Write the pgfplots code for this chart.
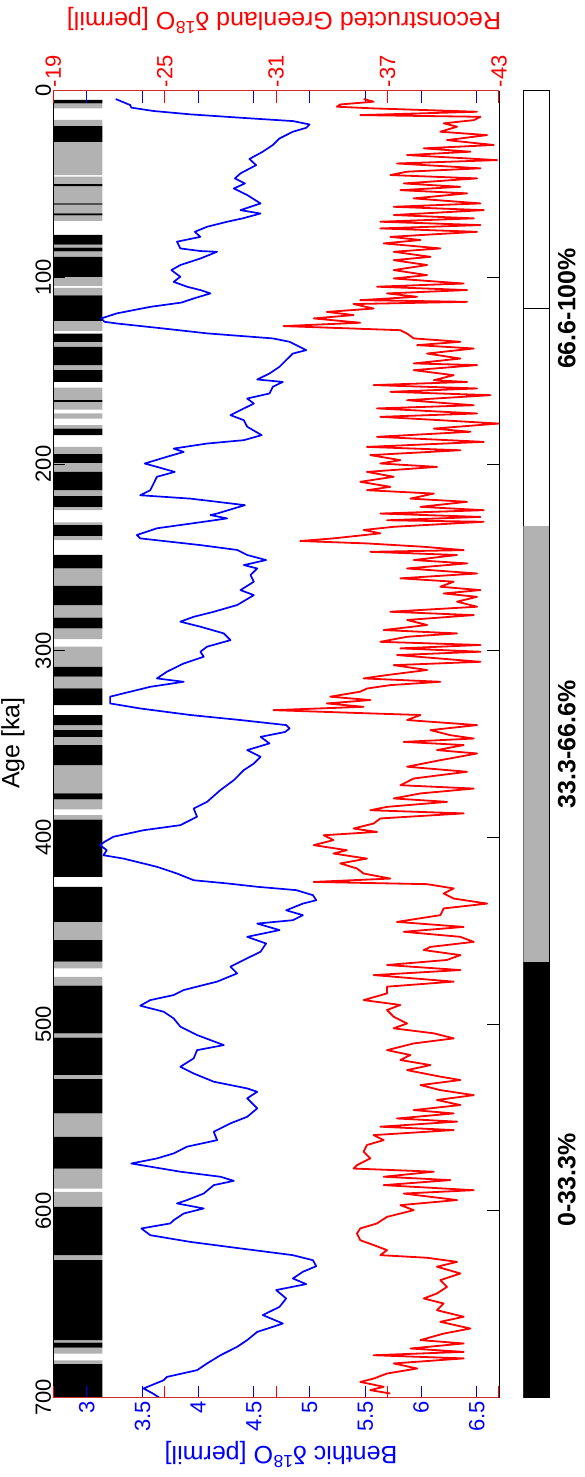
\documentclass[border=0pt]{standalone}
\usepackage{fontspec}
\setmainfont{Liberation Sans}
\usepackage{pgfplots}
\usepackage{pgfplotstable}
\pgfplotsset{compat=1.18}

\definecolor{bandgray}{gray}{0.70}
\definecolor{axisred}{RGB}{205,45,45}
\newcommand\ticklabelfont{\fontsize{22}{26}\selectfont}
\newcommand\titlefont{\fontsize{25}{30}\selectfont}

% Benthic d18O stack (age in ka, permil)
\pgfplotstableread{
age v
4.5 3.26
7.7 3.39
9.1 3.40
10.9 3.60
12.7 3.93
14.5 4.38
16.3 4.85
18.1 5.00
19.9 4.97
22.0 4.85
25.6 4.73
29.1 4.67
32.7 4.58
36.6 4.46
39.9 4.52
44.3 4.38
47.0 4.33
49.7 4.42
52.4 4.32
55.9 4.44
60.4 4.56
64.0 4.38
65.8 4.56
68.4 4.40
70.2 4.26
72.9 4.08
75.6 3.97
78.3 4.02
80.9 3.81
84.5 3.84
85.9 4.02
86.3 4.17
89.9 4.02
93.4 3.84
96.1 3.76
99.7 3.84
102.4 3.78
105.0 3.90
106.8 4.02
108.6 4.11
111.3 3.96
113.5 3.85
115.8 3.57
119.3 3.27
122.0 3.13
123.8 3.16
124.7 3.27
127.4 3.69
128.6 3.87
130.0 4.08
132.7 4.67
134.5 4.82
139.0 4.97
140.8 4.85
144.3 4.79
147.9 4.73
151.5 4.64
154.7 4.53
156.0 4.76
158.6 4.67
162.2 4.64
164.9 4.44
167.6 4.50
171.1 4.38
173.8 4.29
176.5 4.41
180.0 4.44
184.5 4.57
187.2 4.41
189.0 4.08
191.7 3.78
193.5 3.87
196.1 3.72
199.7 3.52
201.5 3.63
204.2 3.79
206.8 3.63
210.4 3.60
214.0 3.57
216.7 3.48
218.5 3.93
222.0 4.42
223.8 4.32
226.5 4.17
227.3 4.11
229.1 4.26
230.9 4.05
234.4 3.63
238.0 3.45
239.8 3.48
243.4 4.02
246.0 4.35
248.7 4.44
251.4 4.61
254.1 4.41
255.9 4.53
259.4 4.47
263.0 4.50
267.5 4.38
270.2 4.50
275.5 4.35
279.1 4.14
281.8 3.96
284.4 3.84
287.1 4.02
290.7 4.23
294.3 4.29
297.8 4.08
300.5 4.02
303.2 4.05
306.8 3.87
311.2 3.72
314.8 3.63
316.6 3.87
319.3 3.57
322.8 3.33
324.6 3.21
328.2 3.21
330.9 3.48
334.4 3.93
337.1 4.38
339.8 4.79
341.6 4.82
343.5 4.78
346.1 4.56
349.6 4.64
353.2 4.44
356.8 4.56
360.4 4.50
363.9 4.41
369.3 4.32
374.6 4.20
380.9 4.08
384.5 3.96
388.9 3.99
393.4 3.84
396.1 3.51
399.6 3.24
402.3 3.16
404.1 3.12
406.8 3.18
409.5 3.15
411.3 3.33
415.7 3.63
419.3 3.81
422.9 3.96
424.6 4.26
426.4 4.53
428.2 4.88
430.9 5.03
433.6 5.06
435.4 4.94
439.0 4.79
441.6 4.94
444.3 4.85
446.1 4.53
449.6 4.73
453.2 4.44
456.8 4.61
457.6 4.60
461.2 4.56
464.7 4.44
469.2 4.29
472.8 4.35
477.2 4.17
481.7 3.87
484.4 3.78
487.1 3.57
490.1 3.48
493.3 3.69
496.9 3.78
501.3 3.84
505.8 3.99
508.5 4.11
511.2 4.23
513.9 3.99
518.3 3.96
522.8 3.84
526.4 3.96
530.8 4.14
534.4 4.44
536.2 4.53
539.7 4.44
545.1 4.53
549.6 4.44
553.1 4.29
557.6 4.14
562.1 4.17
565.6 3.90
569.2 3.78
571.9 3.63
574.6 3.40
579.0 3.84
581.7 4.20
583.9 4.32
586.2 4.14
590.7 4.05
594.2 3.90
596.0 3.81
598.7 4.05
601.4 3.87
605.0 3.78
606.7 3.75
609.4 3.49
613.0 3.57
616.6 3.93
620.1 4.38
623.7 4.85
626.4 5.03
629.6 5.06
632.6 4.94
636.2 4.85
639.2 4.97
642.4 4.70
646.9 4.79
651.4 4.73
655.8 4.58
660.3 4.76
662.1 4.67
664.8 4.53
669.2 4.44
672.8 4.35
677.3 4.20
681.7 4.08
685.3 3.99
688.9 3.72
690.7 3.69
695.1 3.51
698.0 3.60
700.0 3.65
}\benthic

% Reconstructed Greenland d18O (age in ka, permil)
\pgfplotstableread{
age v
4.5 -35.71
5.9 -36.25
7.4 -34.45
8.6 -34.27
9.5 -36.25
11.3 -41.82
13.1 -35.53
14.0 -42.00
15.8 -41.64
17.5 -40.02
19.3 -40.74
22.0 -39.84
23.8 -42.36
26.5 -40.20
29.1 -42.72
30.9 -38.95
32.7 -41.46
34.5 -38.05
37.2 -42.90
39.0 -37.51
41.6 -42.00
43.4 -38.05
45.2 -37.15
47.0 -41.82
49.7 -37.87
51.5 -40.92
53.3 -37.69
55.0 -41.28
57.7 -38.41
60.4 -42.00
62.2 -37.33
64.0 -42.18
66.6 -37.33
68.4 -41.64
70.2 -36.61
72.0 -42.00
73.8 -36.61
75.6 -41.82
78.3 -37.15
80.0 -38.77
81.8 -36.79
84.5 -39.84
86.3 -37.33
89.0 -39.31
90.8 -37.33
93.4 -39.13
96.1 -37.33
98.8 -39.13
100.6 -37.33
103.3 -41.10
105.0 -36.43
106.8 -41.28
108.6 -36.97
110.4 -38.59
112.2 -35.53
113.1 -41.28
114.3 -35.17
116.7 -36.25
118.5 -33.73
120.2 -35.17
122.0 -33.02
124.3 -35.53
126.1 -31.40
128.3 -37.69
130.1 -38.05
132.7 -38.41
134.5 -40.92
136.3 -38.59
138.1 -41.64
140.8 -39.13
143.5 -40.92
146.1 -38.41
147.0 -41.82
149.7 -38.41
152.4 -40.56
155.1 -39.49
156.0 -41.28
157.7 -36.25
159.5 -41.82
161.3 -37.15
163.1 -42.54
165.8 -38.05
168.5 -41.64
170.2 -36.43
172.9 -41.82
174.7 -36.61
176.5 -39.84
178.3 -42.99
181.0 -39.49
182.7 -41.46
185.4 -36.43
188.1 -42.18
190.8 -35.89
192.6 -40.92
195.2 -36.07
197.9 -37.69
199.7 -36.61
201.5 -39.66
204.2 -35.89
206.8 -37.33
209.5 -35.53
212.2 -37.15
214.0 -35.89
215.8 -39.49
218.5 -38.23
220.2 -41.28
222.9 -38.77
224.7 -42.18
226.5 -36.61
228.3 -42.00
230.1 -36.97
230.9 -42.18
233.6 -37.33
235.3 -35.71
237.1 -36.61
239.8 -34.09
241.2 -32.30
242.5 -35.89
244.3 -38.95
246.1 -41.10
247.0 -36.07
248.7 -40.74
251.4 -38.41
253.2 -41.28
255.9 -38.05
258.6 -41.82
261.2 -37.69
263.0 -40.56
265.7 -39.84
267.5 -42.00
269.3 -40.02
271.1 -41.82
273.7 -40.74
276.4 -41.82
279.1 -37.15
280.9 -41.64
283.5 -38.05
286.2 -39.13
288.9 -36.79
290.7 -40.74
292.5 -38.05
295.2 -36.61
296.9 -42.00
298.7 -37.69
300.5 -42.00
302.3 -37.51
305.9 -42.00
307.7 -37.33
310.3 -39.13
313.0 -36.97
314.8 -35.71
316.6 -39.84
318.4 -37.15
320.2 -35.89
321.9 -35.53
324.6 -33.91
326.4 -36.07
328.2 -33.73
330.0 -35.71
331.8 -30.86
333.6 -36.25
334.4 -38.77
337.1 -38.05
339.8 -41.82
342.5 -39.31
345.2 -40.38
347.0 -41.64
348.8 -37.87
350.5 -41.10
353.2 -39.66
355.0 -41.82
358.6 -39.84
362.1 -38.05
364.8 -41.28
368.4 -38.41
372.0 -37.69
373.8 -41.64
376.4 -38.77
379.1 -37.33
380.9 -40.20
383.6 -36.97
385.4 -36.07
387.1 -41.10
389.8 -36.61
392.5 -36.25
395.2 -35.17
397.0 -36.43
398.8 -33.56
401.4 -34.09
404.1 -33.02
406.8 -34.81
408.6 -34.09
411.3 -35.89
413.9 -34.45
416.6 -35.35
419.3 -35.71
422.0 -37.15
423.8 -33.02
425.0 -39.13
427.3 -40.56
430.0 -40.02
432.7 -40.56
435.4 -42.36
438.0 -40.02
441.6 -39.84
445.2 -37.51
447.9 -41.10
450.5 -37.87
453.2 -40.92
455.9 -41.64
458.6 -39.31
460.3 -38.95
463.0 -40.92
465.6 -40.20
468.3 -36.97
471.0 -40.92
473.7 -36.25
477.2 -40.56
479.9 -36.97
483.5 -36.97
487.1 -35.71
489.7 -37.69
492.4 -36.97
496.0 -37.33
499.6 -38.05
502.2 -37.33
504.9 -39.49
507.6 -40.56
510.3 -38.41
513.9 -36.97
516.5 -38.23
519.2 -37.69
521.9 -39.31
524.6 -38.05
528.1 -39.84
529.9 -40.92
532.6 -38.77
535.3 -39.84
538.0 -41.64
540.6 -39.66
543.3 -40.92
546.0 -38.41
547.8 -40.56
550.5 -37.51
552.2 -40.74
554.9 -36.61
556.7 -40.56
559.4 -36.25
562.1 -36.79
564.7 -35.89
568.3 -35.71
571.9 -36.07
575.5 -35.35
577.3 -35.17
579.0 -39.49
581.7 -36.79
583.5 -40.38
586.2 -36.79
588.9 -41.64
590.7 -37.87
594.2 -40.74
596.9 -37.69
599.6 -38.41
603.2 -36.97
606.7 -36.43
609.4 -35.53
612.1 -35.35
615.7 -35.53
618.3 -36.25
621.0 -36.97
623.7 -36.61
625.1 -39.13
627.3 -40.74
629.9 -39.66
633.5 -40.92
637.1 -39.84
640.7 -40.20
644.2 -39.66
646.9 -38.95
649.6 -40.02
653.2 -39.66
656.7 -41.10
659.4 -39.84
663.0 -41.46
665.7 -40.02
669.2 -38.77
671.0 -41.10
673.7 -38.23
675.5 -41.10
677.3 -36.25
679.0 -41.10
681.7 -37.33
684.4 -38.59
687.1 -36.97
689.8 -36.25
691.6 -35.53
694.2 -36.79
696.0 -36.07
697.8 -37.15
}\greenland

% Tercile bands: each row starts an interval (k = black, g = gray, both 0 = white)
\pgfplotstableread{
age k g
0 0 0
5.0 3.14 0
6.8 0 3.14
9.5 0 0
15.7 0 3.14
19.0 3.14 0
27.4 0 3.14
45.2 0 0
46.1 0 3.14
50.0 3.14 0
51.1 0 3.14
60.4 3.14 0
61.1 0 3.14
65.7 3.14 0
66.8 0 3.14
69.7 0 0
77.3 3.14 0
82.4 0 3.14
84.1 3.14 0
86.1 0 3.14
89.0 3.14 0
99.7 0 3.14
104.5 0 0
105.6 0 3.14
109.7 3.14 0
123.3 0 3.14
128.6 0 0
130.1 3.14 0
134.5 0 3.14
137.2 3.14 0
147.0 0 3.14
149.7 3.14 0
156.0 0 0
159.0 0 3.14
165.8 3.14 0
166.7 0 3.14
170.8 0 0
172.9 0 3.14
175.6 0 0
179.2 0 3.14
181.0 3.14 0
184.5 0 0
190.8 0 3.14
194.7 3.14 0
199.3 0 3.14
204.2 3.14 0
214.0 0 3.14
217.2 3.14 0
222.9 0 3.14
224.7 0 0
231.2 0 3.14
232.7 3.14 0
238.4 0 3.14
240.7 0 0
248.7 3.14 0
255.9 0 3.14
265.2 3.14 0
275.5 0 3.14
282.3 3.14 0
288.0 0 3.14
293.7 0 0
297.8 0 3.14
308.6 3.14 0
313.9 0 3.14
320.2 3.14 0
329.1 0 0
334.4 3.14 0
339.8 0 3.14
342.5 3.14 0
346.1 0 3.14
350.5 3.14 0
361.3 0 3.14
376.4 3.14 0
379.6 0 3.14
385.0 0 0
388.0 0 3.14
390.4 3.14 0
421.1 0 0
426.4 3.14 0
445.2 0 3.14
455.0 3.14 0
466.5 0 3.14
470.1 0 0
474.6 0 3.14
479.4 3.14 0
504.9 0 3.14
507.2 3.14 0
527.2 0 3.14
529.4 3.14 0
547.8 0 3.14
560.3 3.14 0
577.3 0 3.14
588.0 0 0
589.8 0 3.14
597.8 3.14 0
623.7 0 3.14
626.4 3.14 0
669.2 0 3.14
670.6 3.14 0
673.2 0 3.14
676.4 0 0
680.0 0 3.14
682.1 3.14 0
700.0 0 0
}\bands

\begin{document}
\begin{tikzpicture}

% benthic axis (bottom) with the age axis and the tercile strip
\begin{axis}[
  name=main,
  at={(53.3pt,79.4pt)}, anchor=south west, scale only axis,
  width=445.7pt, height=1307pt,
  xmin=2.7, xmax=6.7, ymin=0, ymax=700, y dir=reverse,
  axis on top, separate axis lines,
  x axis line style={axisred, line width=0.8pt},
  y axis line style={black, line width=0.8pt},
  xtick={3,3.5,4,4.5,5,5.5,6,6.5},
  xticklabels={3,3.5,4,4.5,5,5.5,6,6.5},
  xtick pos=both, xticklabel pos=lower,
  ytick={0,100,200,300,400,500,600,700},
  yticklabels={0,100,200,300,400,500,600,700},
  ytick pos=both, yticklabel pos=left,
  tick align=inside, major tick length=12pt,
  x tick style={blue, line width=1pt},
  y tick style={black, line width=0.9pt},
  xticklabel style={blue, rotate=90, anchor=east, font=\ticklabelfont},
  yticklabel style={rotate=90, anchor=south, inner sep=2pt, font=\ticklabelfont},
]
\addplot[xbar interval, fill=bandgray, draw=none] table[x=g, y=age] {\bands};
\addplot[xbar interval, fill=black, draw=none] table[x=k, y=age] {\bands};
\addplot[blue, line width=1.7pt, line join=round] table[x=v, y=age] {\benthic};
\end{axis}

% Greenland axis (top)
\begin{axis}[
  at={(53.3pt,79.4pt)}, anchor=south west, scale only axis,
  width=445.7pt, height=1307pt,
  xmin=-43, xmax=-19, x dir=reverse, ymin=0, ymax=700, y dir=reverse,
  axis line style={draw=none},
  ytick=\empty,
  xtick={-43,-37,-31,-25,-19},
  xticklabels={-43,-37,-31,-25,-19},
  xtick pos=both, xticklabel pos=upper,
  tick align=inside, major tick length=12pt,
  x tick style={red, line width=1pt},
  xticklabel style={red, rotate=90, anchor=west, font=\ticklabelfont},
]
\addplot[red, line width=1.8pt, line join=round] table[x=v, y=age] {\greenland};
\end{axis}

% tercile colour bar
\begin{axis}[
  at={(523.3pt,79.4pt)}, anchor=south west, scale only axis,
  width=26pt, height=1307pt,
  xmin=0, xmax=1, ymin=0, ymax=3,
  axis line style={black, line width=0.8pt},
  xtick=\empty,
  ytick={0.5,1.5,2.5},
  yticklabels={0-33.3\%,33.3-66.6\%,66.6-100\%},
  ytick pos=right, yticklabel pos=right,
  tick align=inside, major tick length=26pt,
  y tick style={black, line width=0.9pt},
  yticklabel style={rotate=90, anchor=north, font=\titlefont\bfseries},
  yticklabel shift=5pt,
]
\addplot[fill=bandgray, draw=none] coordinates {(0,2) (1,2)} \closedcycle;
\addplot[fill=black, draw=none] coordinates {(0,1) (1,1)} \closedcycle;
\end{axis}

\node[rotate=180, text=red, font=\titlefont] at (284pt,1456pt)
  {Reconstructed Greenland δ\textsuperscript{18}O [permil]};
\node[rotate=180, text=blue, font=\titlefont] at (281pt,22pt)
  {Benthic δ\textsuperscript{18}O [permil]};
\node[rotate=90, font=\titlefont] at (13pt,734pt) {Age [ka]};

\pgfresetboundingbox
\path[use as bounding box] (0pt,0pt) rectangle (585pt,1477pt);
\end{tikzpicture}
\end{document}
